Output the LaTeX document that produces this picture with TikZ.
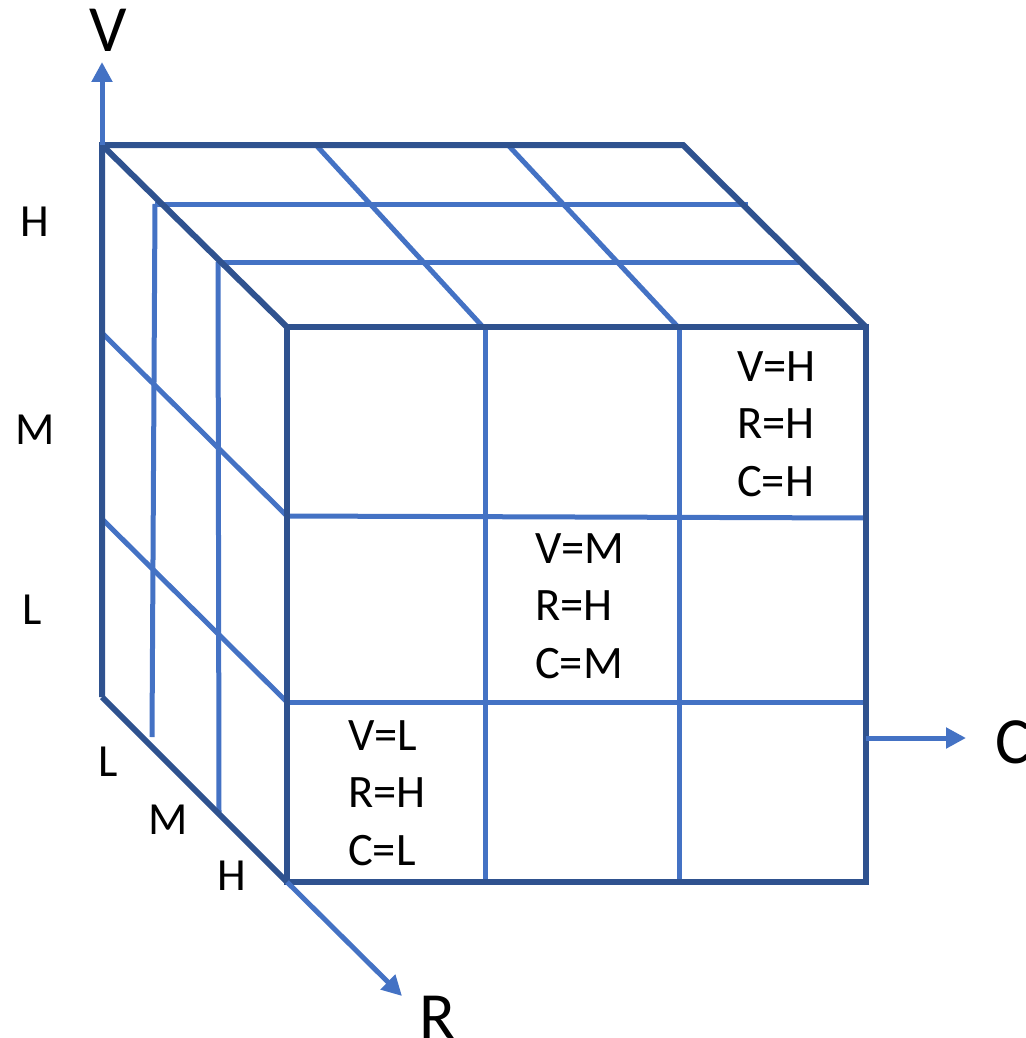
\documentclass[tikz,border=0pt]{standalone}
\usepackage{fontspec}
\setmainfont{Carlito}
\usetikzlibrary{arrows.meta}
\definecolor{edgeblue}{HTML}{2F528F}
\definecolor{gridblue}{HTML}{4472C4}

\begin{document}
\begin{tikzpicture}[x=1pt,y=-1pt,
  edge/.style={draw=edgeblue,line width=6pt,line join=miter},
  grid/.style={draw=gridblue,line width=5pt},
  axis/.style={draw=gridblue,line width=5pt,-{Triangle[length=20pt,width=20pt]}},
  tick/.style={font=\fontsize{46}{55}\selectfont,inner sep=0pt},
  axislabel/.style={font=\fontsize{66}{79}\selectfont,inner sep=0pt},
  cell/.style={font=\fontsize{46.5}{57.5}\selectfont,align=left,anchor=west,inner sep=0pt}]
\useasboundingbox (0,0) rectangle (1025,1038);

% cube corners
\coordinate (BTL) at (102,145);
\coordinate (BTR) at (683,145);
\coordinate (BBL) at (102,697);
\coordinate (FTL) at (287,327);
\coordinate (FTR) at (866,327);
\coordinate (FBL) at (287,882);
\coordinate (FBR) at (866,882);

% axis ends
\coordinate (Vend) at (102,62);
\coordinate (Cstart) at (866,738);
\coordinate (Cend) at (966,738);
\coordinate (Rend) at (402,996);

% top face grid
\draw[grid] (155,204) -- (748,204);
\draw[grid] (218,262) -- (800,262);
\draw[grid] (316,145) -- (483,327);
\draw[grid] (508,145) -- (678,327);

% left face grid
\draw[grid] (155,204) -- (152,737);
\draw[grid] (218,262) -- (219,812);
\draw[grid] (102,333) -- (287,516);
\draw[grid] (102,519) -- (287,702);

% front face grid
\draw[grid] (287,516) -- (866,518);
\draw[grid] (287,702) -- (866,702);
\draw[grid] (485,327) -- (485,882);
\draw[grid] (679,327) -- (679,882);

% cube edges
\draw[edge] (BBL) -- (BTL) -- (BTR) -- (FTR);
\draw[edge] (BTL) -- (FTL);
\draw[edge] (BBL) -- (FBL);
\draw[edge] (FTL) rectangle (FBR);

% axes
\draw[axis] (BTL) -- (Vend);
\draw[axis] (Cstart) -- (Cend);
\draw[axis] (FBL) -- (Rend);

\node[axislabel] (Vlab) at (108,30) {V};
\node[axislabel,anchor=west] (Clab) at (995,742) {C};
\node[axislabel] (Rlab) at (437,1017) {R};

% level ticks along V
\node[tick] (vH) at (35,222) {H};
\node[tick] (vM) at (35,430) {M};
\node[tick] (vL) at (32,610) {L};

% level ticks along R
\node[tick] (rL) at (108,762) {L};
\node[tick] (rM) at (168,820) {M};
\node[tick] (rH) at (232,876) {H};

% cell labels
\node[cell] (cHHH) at (737,424) {V=H\\R=H\\C=H};
\node[cell] (cMHM) at (535,606) {V=M\\R=H\\C=M};
\node[cell] (cLHL) at (348,793) {V=L\\R=H\\C=L};
\end{tikzpicture}
\end{document}
